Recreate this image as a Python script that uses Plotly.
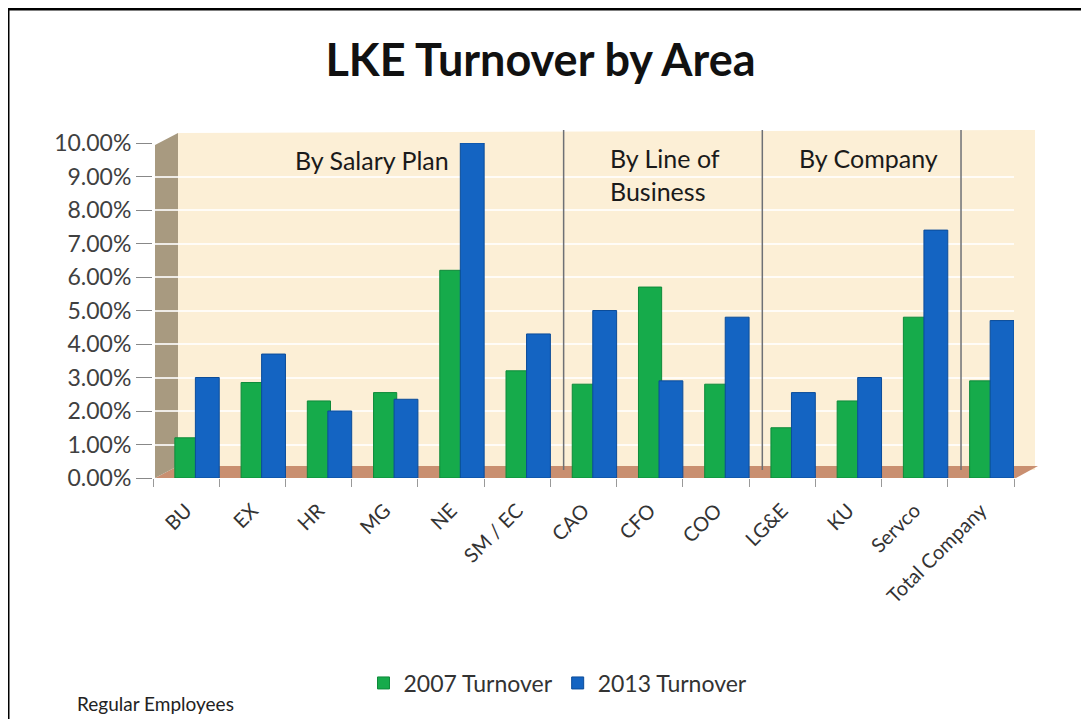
import plotly.graph_objects as go

categories = ["BU", "EX", "HR", "MG", "NE", "SM / EC", "CAO", "CFO", "COO",
              "LG&E", "KU", "Servco", "Total Company"]
turnover_2007 = [0.012, 0.0285, 0.023, 0.0255, 0.062, 0.032, 0.028, 0.057, 0.028,
                 0.015, 0.023, 0.048, 0.029]
turnover_2013 = [0.030, 0.037, 0.020, 0.0235, 0.100, 0.043, 0.050, 0.029, 0.048,
                 0.0255, 0.030, 0.074, 0.047]
series_names = ["2007 Turnover", "2013 Turnover"]
section_labels = ["By Salary Plan", "By Line of<br>Business", "By Company"]
section_breaks = [5.7, 8.7, 11.7]

FONT = "Lato, 'Open Sans', sans-serif"
green = "#16AB4B"
blue = "#1464C2"

W, H = 1081, 711
L, R, T, B = 145, 75, 135, 241
PW, PH = W - L - R, H - T - B


def px(xf):
    return (xf - L) / PW


def py(yf):
    return (H - B - yf) / PH


fig = go.Figure()
fig.add_trace(go.Bar(x=categories, y=turnover_2007, name=series_names[0],
                     offset=-0.17, width=0.35,
                     marker=dict(color=green, line=dict(color="#0E8A3A", width=1))))
fig.add_trace(go.Bar(x=categories, y=turnover_2013, name=series_names[1],
                     offset=0.14, width=0.36,
                     marker=dict(color=blue, line=dict(color="#0B4C99", width=1))))

shapes = []
# back wall (extends up/right for the 3D look)
shapes.append(dict(type="path", xref="paper", yref="paper",
                   path=f"M {px(170)},{py(462)} L {px(1027)},{py(462)} L {px(1027)},{py(122)} "
                        f"L {px(170)},{py(125)} Z",
                   fillcolor="#FCEFD6", line=dict(width=0), layer="below"))
# floor
shapes.append(dict(type="path", xref="paper", yref="paper",
                   path=f"M {px(147)},{py(470)} L {px(1008)},{py(470)} L {px(1030)},{py(458)} "
                        f"L {px(170)},{py(458)} Z",
                   fillcolor="#C98F70", line=dict(width=0), layer="below"))
# left wall
shapes.append(dict(type="path", xref="paper", yref="paper",
                   path=f"M {px(147)},{py(470)} L {px(170)},{py(458)} L {px(170)},{py(125)} "
                        f"L {px(147)},{py(137)} Z",
                   fillcolor="#A89A80", line=dict(width=0), layer="below"))
# section dividers
for b in section_breaks:
    shapes.append(dict(type="line", xref="x", yref="paper", x0=b, x1=b, y0=py(462), y1=py(122),
                       line=dict(color="#6E7075", width=1.5)))
# outer border (top and left)
shapes.append(dict(type="line", xref="paper", yref="paper", x0=px(0), x1=px(W - 4), y0=py(1), y1=py(1),
                   line=dict(color="black", width=3)))
shapes.append(dict(type="line", xref="paper", yref="paper", x0=px(0), x1=px(0), y0=py(0), y1=py(H),
                   line=dict(color="black", width=3)))

annotations = [
    dict(text=section_labels[0], x=2.81, y=0.0949, xref="x", yref="y", showarrow=False,
         font=dict(family=FONT, size=25, color="#1a1a1a"), xanchor="center", yanchor="middle"),
    dict(text=section_labels[1], x=6.37, y=0.0905, xref="x", yref="y", showarrow=False, align="left",
         font=dict(family=FONT, size=25, color="#1a1a1a"), xanchor="left", yanchor="middle"),
    dict(text=section_labels[2], x=10.3, y=0.0955, xref="x", yref="y", showarrow=False,
         font=dict(family=FONT, size=25, color="#1a1a1a"), xanchor="center", yanchor="middle"),
    dict(text="Regular Employees", x=px(67), y=py(695), xref="paper", yref="paper",
         showarrow=False, font=dict(family=FONT, size=19, color="#222"),
         xanchor="left", yanchor="middle"),
]

fig.update_layout(
    width=W, height=H,
    paper_bgcolor="white",
    plot_bgcolor="rgba(0,0,0,0)",
    margin=dict(l=L, r=R, t=T, b=B),
    title=dict(text="<b>LKE Turnover by Area</b>", x=0.5 - 8 / W, xanchor="center",
               y=1 - 52 / H, yanchor="middle",
               font=dict(family=FONT, size=45, color="#111")),
    barmode="overlay",
    showlegend=True,
    legend=dict(orientation="h", x=px(550), xanchor="center", y=py(675), yanchor="middle",
                font=dict(family=FONT, size=23, color="#333"), bgcolor="rgba(0,0,0,0)"),
    xaxis=dict(tickangle=-45, tickfont=dict(family=FONT, size=20, color="#333"),
               ticks="outside", tickson="boundaries", ticklen=8, tickcolor="#999",
               ticklabelstandoff=16, range=[-0.5, 12.5],
               showline=False, showgrid=False),
    yaxis=dict(range=[0, 0.10], dtick=0.01, tickformat=".2%",
               tickfont=dict(family=FONT, size=23, color="#404040"),
               ticks="outside", ticklen=16, tickcolor="#888",
               showgrid=True, gridcolor="rgba(255,255,255,0.8)", gridwidth=1.5,
               zeroline=False, showline=False),
    shapes=shapes,
    annotations=annotations,
)

fig.write_html("out.html")
